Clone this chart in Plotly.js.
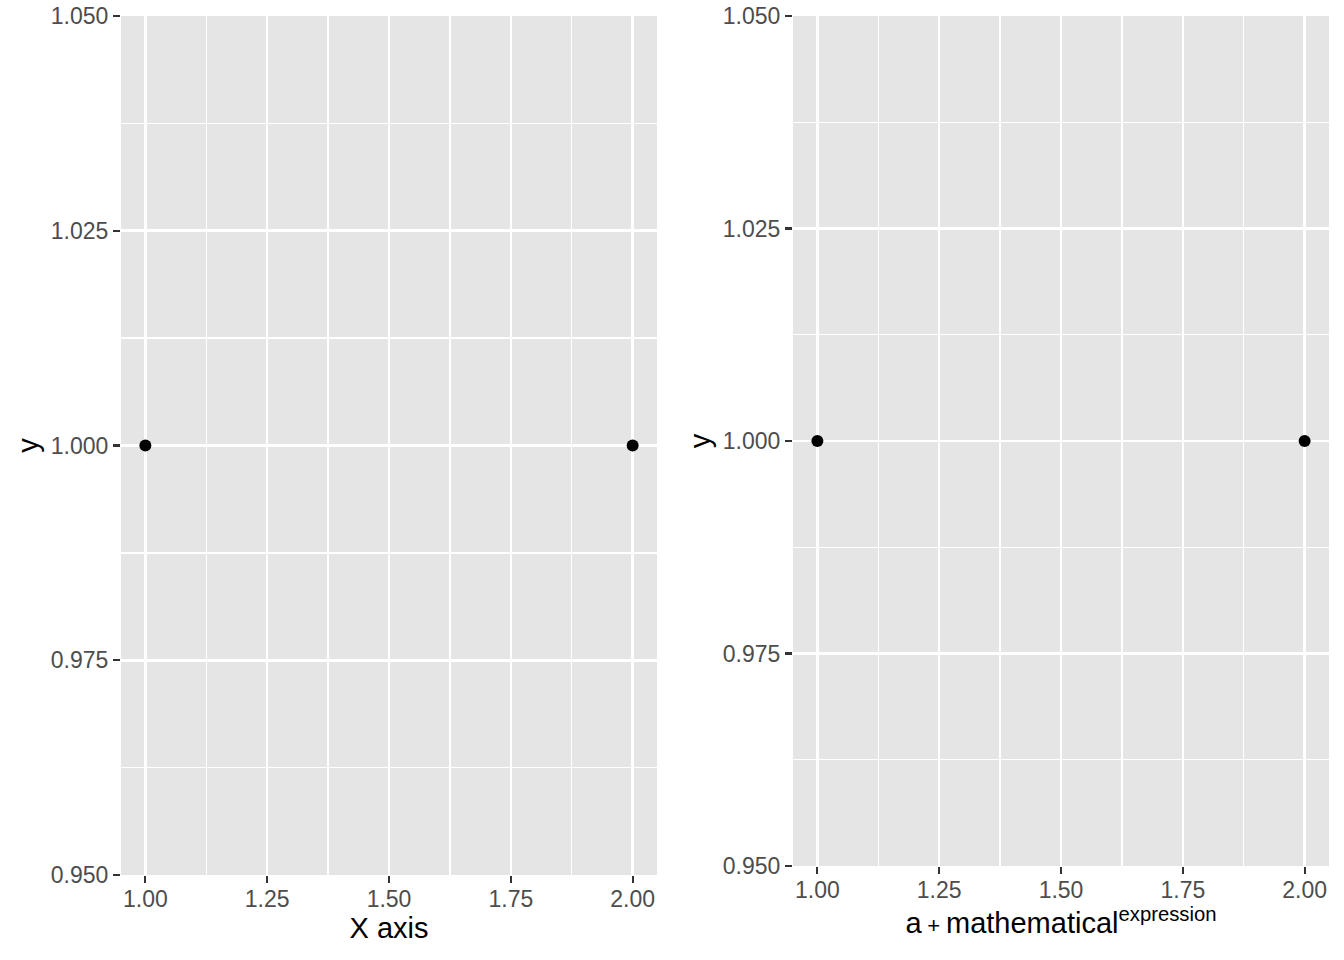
<!DOCTYPE html>
<html>
<head>
<meta charset="utf-8">
<script src="https://cdn.plot.ly/plotly-3.0.1.min.js"></script>
<style>html,body{margin:0;padding:0;background:#fff;}#chart{width:1344px;height:960px;}</style>
</head>
<body>
<div id="chart"></div>
<script>
const xValues = [1, 2];
const yValues = [1, 1];
const xTickVals = [1.00, 1.25, 1.50, 1.75, 2.00];
const xTickText = ["1.00", "1.25", "1.50", "1.75", "2.00"];
const yTickVals = [0.950, 0.975, 1.000, 1.025, 1.050];
const yTickText = ["0.950", "0.975", "1.000", "1.025", "1.050"];
const leftXTitle = "X axis";
const rightXTitle = "a\u2009<span style=\"font-size:22px\">+</span>\u2009mathematical<sup>expression</sup>";
const yTitle = "y";

const font = "Liberation Sans, Arial, sans-serif";
const tickFont = {family: font, size: 23, color: "#4D4D4D"};
const titleFont = {family: font, size: 29, color: "#000000"};

function xaxis(domain, anchor, title, standoff) {
  return {
    domain: domain, anchor: anchor, range: [0.95, 2.05],
    tickmode: "array", tickvals: xTickVals, ticktext: xTickText,
    ticks: "outside", ticklen: 7, tickwidth: 2.2, tickcolor: "#333333",
    ticklabelstandoff: -4,
    tickfont: tickFont, showgrid: true, gridcolor: "#FFFFFF", gridwidth: 2.6,
    minor: {dtick: 0.25, tick0: 1.125, showgrid: true, gridcolor: "#FFFFFF", gridwidth: 1.3, ticks: ""},
    zeroline: false, showline: false, fixedrange: true,
    title: {text: title, font: titleFont, standoff: standoff}
  };
}
function yaxis(domain, anchor) {
  return {
    domain: domain, anchor: anchor, range: [0.95, 1.05],
    tickmode: "array", tickvals: yTickVals, ticktext: yTickText,
    ticks: "outside", ticklen: 7, tickwidth: 2.2, tickcolor: "#333333",
    tickfont: tickFont, showgrid: true, gridcolor: "#FFFFFF", gridwidth: 2.6,
    minor: {dtick: 0.025, tick0: 0.9625, showgrid: true, gridcolor: "#FFFFFF", gridwidth: 1.3, ticks: ""},
    zeroline: false, showline: false, fixedrange: true,
    title: {text: yTitle, font: titleFont, standoff: 3}
  };
}

const traces = [
  {x: xValues, y: yValues, xaxis: "x", yaxis: "y", type: "scatter", mode: "markers",
   marker: {color: "#000000", size: 12}, hoverinfo: "skip"},
  {x: xValues, y: yValues, xaxis: "x2", yaxis: "y2", type: "scatter", mode: "markers",
   marker: {color: "#000000", size: 12}, hoverinfo: "skip"}
];

const layout = {
  width: 1344, height: 960,
  margin: {l: 0, r: 0, t: 0, b: 0},
  paper_bgcolor: "#FFFFFF",
  plot_bgcolor: "#E5E5E5",
  showlegend: false,
  xaxis: xaxis([121/1344, 657/1344], "y", leftXTitle, 5),
  yaxis: yaxis([(960-875)/960, (960-16)/960], "x"),
  xaxis2: xaxis([793/1344, 1329/1344], "y2", rightXTitle, 8),
  yaxis2: yaxis([(960-866)/960, (960-16)/960], "x2")
};

Plotly.newPlot("chart", traces, layout, {staticPlot: true, displayModeBar: false});
</script>
</body>
</html>
